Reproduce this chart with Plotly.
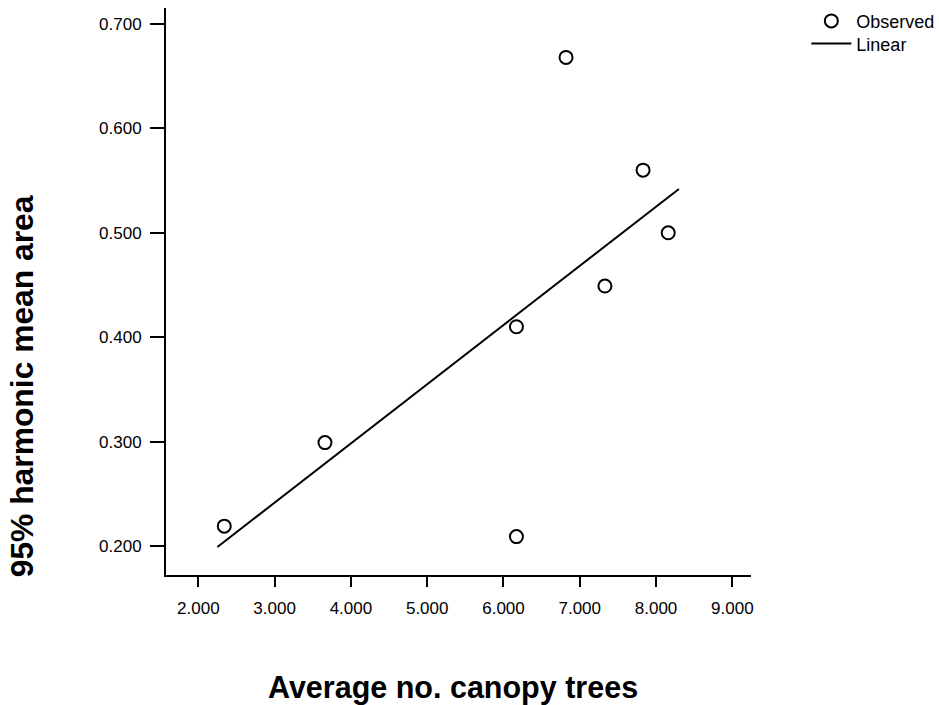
import plotly.graph_objects as go

# data
canopy_trees = [2.34, 3.66, 6.17, 6.17, 6.82, 7.33, 7.83, 8.16]
harmonic_area = [0.219, 0.299, 0.410, 0.209, 0.668, 0.449, 0.560, 0.500]

# fitted linear line (end points as drawn)
fit_x = [2.25, 8.30]
fit_y = [0.199, 0.542]

x_ticks = [2, 3, 4, 5, 6, 7, 8, 9]
y_ticks = [0.2, 0.3, 0.4, 0.5, 0.6, 0.7]

font_family = "Arial, Liberation Sans, sans-serif"

fig = go.Figure()
fig.add_trace(go.Scatter(x=canopy_trees, y=harmonic_area, mode="markers",
    name="Observed", legend="legend",
    marker=dict(symbol="circle-open", size=13, color="black",
                line=dict(color="black", width=2))))
fig.add_trace(go.Scatter(x=fit_x, y=fit_y, mode="lines", name="Linear",
    legend="legend2",
    line=dict(color="black", width=2)))

fig.update_xaxes(range=[1.576, 9.245], tickvals=x_ticks, tickformat=".3f",
    showline=True, linecolor="black", linewidth=2,
    ticks="outside", ticklen=10, tickwidth=2, tickcolor="black",
    ticklabelstandoff=7,
    showgrid=False, zeroline=False,
    tickfont=dict(family=font_family, size=17, color="black"))
fig.update_yaxes(range=[0.1722, 0.7153], tickvals=y_ticks, tickformat=".3f",
    showline=True, linecolor="black", linewidth=2,
    ticks="outside", ticklen=14, tickwidth=2, tickcolor="black",
    ticklabelstandoff=5,
    showgrid=False, zeroline=False,
    tickfont=dict(family=font_family, size=17, color="black"))

fig.add_annotation(text="<b>Average no. canopy trees</b>", xref="paper", yref="paper",
    x=0.491, y=-0.199, xanchor="center", yanchor="middle", showarrow=False,
    font=dict(family=font_family, size=30.5, color="black"))
fig.add_annotation(text="<b>95% harmonic mean area</b>", xref="paper", yref="paper",
    x=-0.246, y=0.333, xanchor="center", yanchor="middle", showarrow=False,
    textangle=-90,
    font=dict(family=font_family, size=31.8, color="black"))

legend_style = dict(xanchor="left", yanchor="top",
                    font=dict(family=font_family, size=18, color="black"),
                    bgcolor="rgba(0,0,0,0)", itemwidth=40)

fig.update_layout(
    width=939, height=705,
    template="simple_white",
    margin=dict(l=166, r=188, t=8, b=130, autoexpand=False),
    plot_bgcolor="white", paper_bgcolor="white",
    showlegend=True,
    legend=dict(x=1.0946, y=1.0093, **legend_style),
    legend2=dict(x=1.0946, y=0.9695, **legend_style),
)

fig.write_html("out.html", config={"displayModeBar": False},
               post_script="document.body.style.margin='0';")
